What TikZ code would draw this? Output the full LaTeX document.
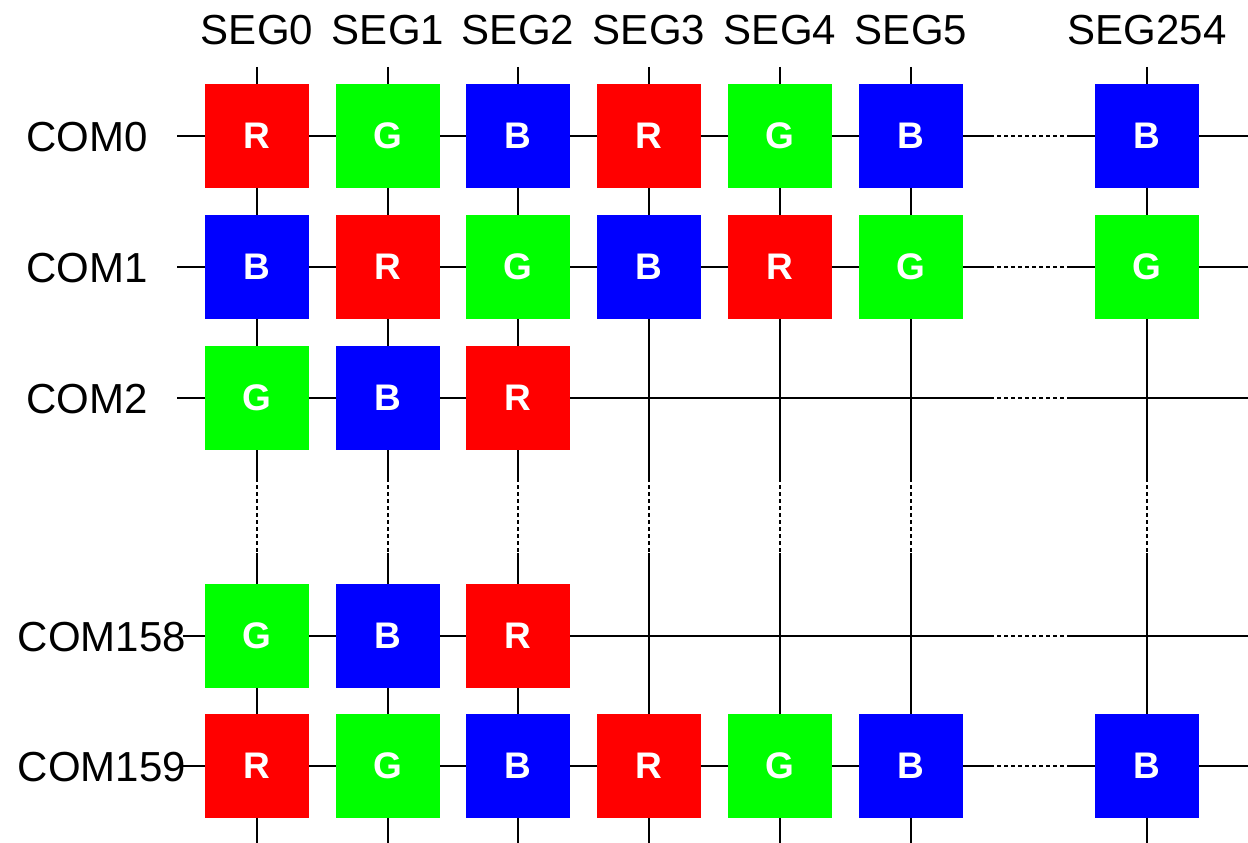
\documentclass[tikz,border=0pt]{standalone}
\usepackage{fontspec}
\setmainfont{Liberation Sans}
\definecolor{pr}{RGB}{255,0,0}
\definecolor{pg}{RGB}{0,255,0}
\definecolor{pb}{RGB}{0,0,255}
\begin{document}
\begin{tikzpicture}[x=1pt,y=-1pt,
  wire/.style={line width=2.3pt,black},
  dotwire/.style={line width=2.3pt,black,dash pattern=on 4pt off 3pt},
  cell/.style={minimum size=104pt,inner sep=0pt,text=white,
     font=\fontsize{37}{44}\selectfont\bfseries},
  R/.style={cell,fill=pr},
  G/.style={cell,fill=pg},
  B/.style={cell,fill=pb},
  lab/.style={font=\fontsize{42}{50}\selectfont,inner sep=0pt}]
\fill[white] (0,0) rectangle (1248,843);
\useasboundingbox (0,0) rectangle (1248,843);
% column coordinates
\foreach \n/\x/\t in {0/257/SEG0,1/388/SEG1,2/518/SEG2,3/649/SEG3,4/780/SEG4,5/911/SEG5,6/1147/SEG254}{
  \coordinate (ct\n) at (\x,67);
  \coordinate (cd\n) at (\x,478);
  \coordinate (ce\n) at (\x,553);
  \coordinate (cb\n) at (\x,843);
  \node[lab,anchor=base] (seg\n) at (\x,45) {\t};
  \draw[wire] (ct\n) -- (cd\n);
  \draw[dotwire] (cd\n) -- (ce\n);
  \draw[wire] (ce\n) -- (cb\n);
}
% rows
\foreach \n/\y/\t/\s in {0/136/COM0/177,1/267/COM1/177,2/398/COM2/177,3/636/COM158/183,4/766/COM159/183}{
  \coordinate (rs\n) at (\s,\y);
  \coordinate (rd\n) at (990,\y);
  \coordinate (re\n) at (1070,\y);
  \coordinate (rx\n) at (1248,\y);
  \draw[wire] (rs\n) -- (rd\n);
  \draw[dotwire] (rd\n) -- (re\n);
  \draw[wire] (re\n) -- (rx\n);
}
\node[lab,anchor=base east] (com0) at (148,151) {COM0};
\node[lab,anchor=base east] (com1) at (148,282) {COM1};
\node[lab,anchor=base east] (com2) at (148,413) {COM2};
\node[lab,anchor=base east] (com158) at (186,651) {COM158};
\node[lab,anchor=base east] (com159) at (186,781) {COM159};
% pixels
\foreach \c/\x/\k in {0/257/R,1/388/G,2/518/B,3/649/R,4/780/G,5/911/B,6/1147/B}{
  \node[\k] (p0\c) at (\x,136) {\k};}
\foreach \c/\x/\k in {0/257/B,1/388/R,2/518/G,3/649/B,4/780/R,5/911/G,6/1147/G}{
  \node[\k] (p1\c) at (\x,267) {\k};}
\foreach \c/\x/\k in {0/257/G,1/388/B,2/518/R}{
  \node[\k] (p2\c) at (\x,398) {\k};}
\foreach \c/\x/\k in {0/257/G,1/388/B,2/518/R}{
  \node[\k] (p3\c) at (\x,636) {\k};}
\foreach \c/\x/\k in {0/257/R,1/388/G,2/518/B,3/649/R,4/780/G,5/911/B,6/1147/B}{
  \node[\k] (p4\c) at (\x,766) {\k};}
\end{tikzpicture}
\end{document}
